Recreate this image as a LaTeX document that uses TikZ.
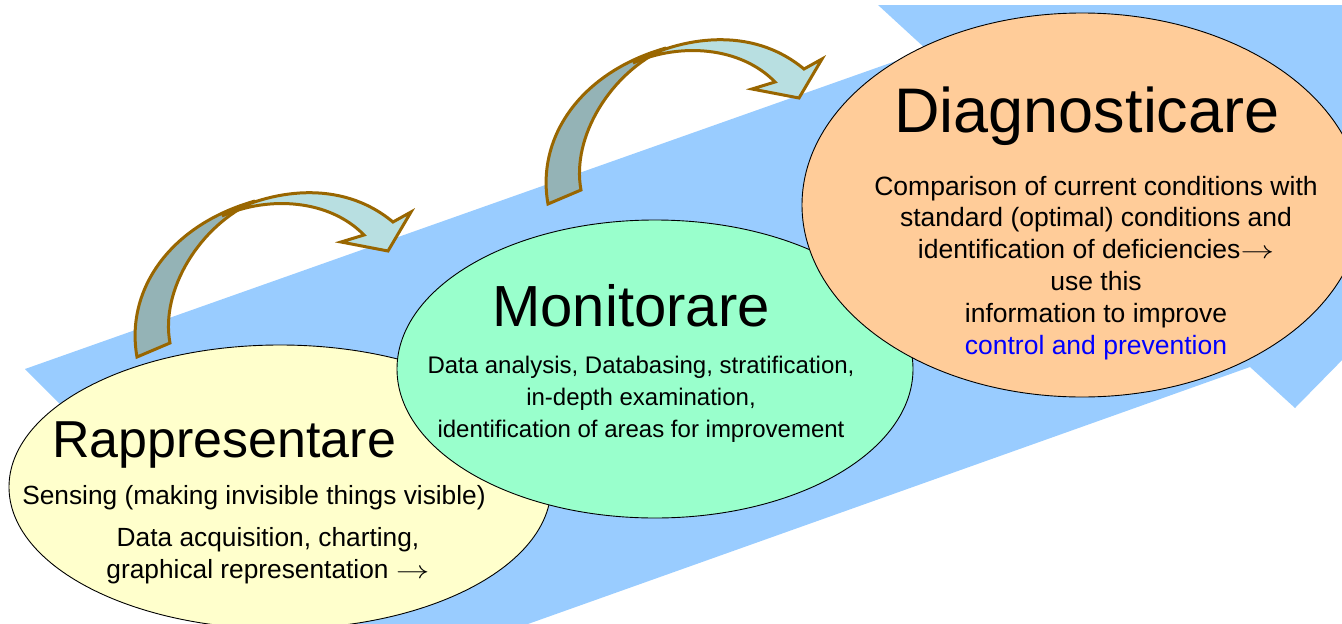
\documentclass[tikz,border=0pt]{standalone}
\usepackage{fontspec}
\setmainfont{Liberation Sans}
\usetikzlibrary{shapes.geometric}

\definecolor{flowblue}{HTML}{99CCFF}
\definecolor{stageyellow}{HTML}{FFFFCC}
\definecolor{stagegreen}{HTML}{99FFCC}
\definecolor{stageorange}{HTML}{FFCC99}
\definecolor{ribbonedge}{HTML}{996600}
\definecolor{ribbonback}{HTML}{94B3B6}
\definecolor{ribbonfront}{HTML}{B8DFE1}
\definecolor{linkblue}{HTML}{0000FF}

% a slightly stretched thin arrow for the running text
\newcommand\textarrowlong{\scalebox{1.35}[1]{$\rightarrow$}}

\tikzset{
  stage/.style={ellipse, draw=black, line width=0.9pt, inner sep=0pt},
  titletext/.style={anchor=base, font=\fontsize{#1}{72}\selectfont},
  % multi-line texts are placed by the baseline of their last line
  bodytext/.style={anchor=base, align=center, font=\fontsize{#1}{31.8}\selectfont},
  ribbon/.style={draw=ribbonedge, line width=3pt, line join=miter},
  bendarrow/.pic={
    % back fold rising from the tail
    \path[ribbon, fill=ribbonback]
      (137,357) .. controls (125,290) and (170,225) .. (255,201)
      .. controls (200,225) and (160,290) .. (170,343) -- cycle;
    % front band turning down into the head
    \path[ribbon, fill=ribbonfront]
      (222,216) .. controls (270,190) and (340,178) .. (393,222)
      -- (411,212) -- (388,251) -- (341,242) -- (364,235)
      .. controls (330,200) and (270,195) .. (222,216) -- cycle;
  }
}

\begin{document}
\begin{tikzpicture}[x=1pt, y=-1pt]
\useasboundingbox (0,0) rectangle (1342,624);

% wide rising arrow in the background
\begin{scope}
  \clip (0,0) rectangle (1342,624);
  \fill[flowblue] (25,369) -- (927,50) -- (878,5) -- (1350,5) -- (1350,352)
    -- (1295,408) -- (1250,367) -- (483,640) -- (296,640) -- cycle;
\end{scope}

% bent arrows between the stages
\pic at (0,0) {bendarrow};
\pic at (411,-153) {bendarrow};

% the three stages
\node[stage, fill=stageyellow, minimum width=542pt, minimum height=284pt] (rapp) at (280,487) {};
\node[stage, fill=stagegreen, minimum width=516pt, minimum height=298pt] (moni) at (655,369) {};
\node[stage, fill=stageorange, minimum width=560pt, minimum height=384pt] (diag) at (1082,205) {};

% stage texts
\node[titletext=52] (rapptitle) at (224,457) {Rappresentare};
\node[bodytext=26.3] (rappsense) at (254,504) {Sensing (making invisible things visible)};
\node[bodytext=26.3] (rapptext) at (268,578) {Data acquisition, charting,\\graphical representation \textarrowlong};

\node[titletext=58] (monititle) at (631,326) {Monitorare};
\node[bodytext=24] (monitext) at (641,437) {Data analysis, Databasing, stratification,\\in-depth examination,\\identification of areas for improvement};

\node[titletext=63] (diagtitle) at (1087,132) {Diagnosticare};
\node[bodytext=26.5] (diagtext) at (1096,354) {Comparison of current conditions with\\standard (optimal) conditions and\\identification of deficiencies\textarrowlong\\use this\\information to improve\\\textcolor{linkblue}{control and prevention}};
\end{tikzpicture}
\end{document}
